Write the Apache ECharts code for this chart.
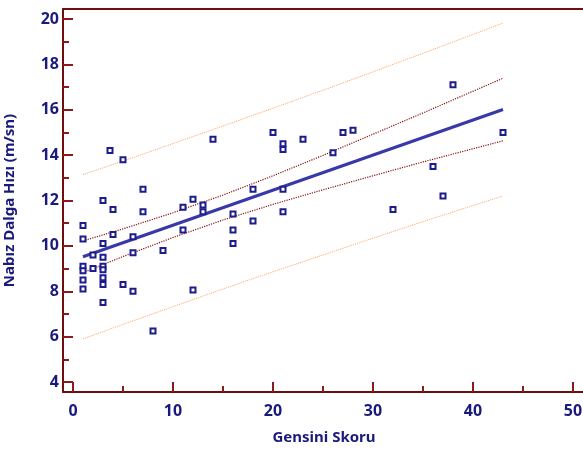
<!DOCTYPE html>
<html>
<head>
<meta charset="utf-8">
<script src="https://cdn.jsdelivr.net/npm/echarts@6/dist/echarts.min.js"></script>
<style>html,body{margin:0;padding:0;background:#fff}#c{width:583px;height:449px}</style>
</head>
<body>
<div id="c"></div>
<script>
// Data
const gensini = [1,1,1,1,1,1,2,2,3,3,3,3,3,3,3,3,3.7,4,4,5,5,6,6,6,7,7,8,9,11,11,12,12,13,13,14,16,16,16,18,18,20,21,21,21,21,23,26,27,28,32,36,37,38,43];
const nabiz   = [10.9,10.3,9.1,8.9,8.5,8.1,9.6,9.0,12.0,10.1,9.5,9.1,8.95,8.6,8.3,7.5,14.2,11.6,10.5,13.8,8.3,10.4,9.7,8.0,12.5,11.5,6.25,9.8,11.7,10.7,12.05,8.05,11.8,11.5,14.7,11.4,10.7,10.1,12.5,11.1,15.0,14.5,14.25,12.5,11.5,14.7,14.1,15.0,15.1,11.6,13.5,12.2,17.1,15.0];
const fitX = [1, 43];
const fitY = [9.52, 16.01];
const bandX     = [1, 5, 10, 15, 20, 25, 30, 35, 43];
const confUpper = [10.22, 10.75, 11.46, 12.24, 13.09, 13.99, 14.92, 15.86, 17.39];
const confLower = [8.82, 9.53, 10.37, 11.14, 11.83, 12.47, 13.09, 13.70, 14.63];
const predUpper = [13.14, 13.74, 14.51, 15.28, 16.07, 16.86, 17.67, 18.49, 19.82];
const predLower = [5.90, 6.54, 7.32, 8.10, 8.86, 9.60, 10.34, 11.07, 12.20];
const xMajorTicks = [0, 10, 20, 30, 40, 50];
const xMinorTicks = [5, 15, 25, 35, 45];
const yMajorTicks = [4, 6, 8, 10, 12, 14, 16, 18, 20];
const yMinorTicks = [5, 7, 9, 11, 13, 15, 17, 19];
const xTitle = 'Gensini Skoru';
const yTitle = 'Nabız Dalga Hızı (m/sn)';

const navy = '#1a1a7c';
const axisCol = '#6e0f0f';
const tickCol = '#8b1a1a';
const font = 'Noto Sans';
const zip = (a, b) => a.map((v, i) => [v, b[i]]);

const xRange = {min: -1, max: 52};
const yRange = {min: 3.56, max: 20.44};

const chart = echarts.init(document.getElementById('c'), null, {renderer: 'canvas'});
chart.setOption({
  animation: false,
  grid: {left: 63, top: 9, width: 530, height: 383, outerBoundsMode: 'none'},
  xAxis: [
    {type: 'value', position: 'bottom', ...xRange,
     name: xTitle, nameLocation: 'middle', nameGap: 38,
     nameTextStyle: {color: navy, fontFamily: font, fontWeight: 'bold', fontSize: 15, padding: [0, 8, 0, 0]},
     axisLine: {show: true, onZero: false, lineStyle: {color: axisCol, width: 2}},
     axisTick: {show: true, inside: true, length: 10, customValues: xMajorTicks, lineStyle: {color: tickCol, width: 2}},
     axisLabel: {customValues: xMajorTicks, color: navy, fontFamily: font, fontWeight: 'bold', fontSize: 16, margin: 11},
     splitLine: {show: false}},
    {type: 'value', position: 'bottom', ...xRange,
     axisLine: {show: false, onZero: false},
     axisTick: {show: true, inside: true, length: 6, customValues: xMinorTicks, lineStyle: {color: tickCol, width: 2}},
     axisLabel: {show: false}, splitLine: {show: false}},
    {type: 'value', position: 'top', ...xRange,
     axisLine: {show: true, onZero: false, lineStyle: {color: axisCol, width: 2}},
     axisTick: {show: false}, axisLabel: {show: false}, splitLine: {show: false}}
  ],
  yAxis: [
    {type: 'value', position: 'left', ...yRange,
     name: yTitle, nameLocation: 'middle', nameGap: 46,
     nameTextStyle: {color: navy, fontFamily: font, fontWeight: 'bold', fontSize: 15},
     axisLine: {show: true, onZero: false, lineStyle: {color: axisCol, width: 2}},
     axisTick: {show: true, inside: true, length: 10, customValues: yMajorTicks, lineStyle: {color: tickCol, width: 2}},
     axisLabel: {customValues: yMajorTicks, color: navy, fontFamily: font, fontWeight: 'bold', fontSize: 16, margin: 4},
     splitLine: {show: false}},
    {type: 'value', position: 'left', ...yRange,
     axisLine: {show: false, onZero: false},
     axisTick: {show: true, inside: true, length: 6, customValues: yMinorTicks, lineStyle: {color: tickCol, width: 2}},
     axisLabel: {show: false}, splitLine: {show: false}}
  ],
  series: [
    {type: 'line', data: zip(bandX, predUpper), showSymbol: false, lineStyle: {color: '#ffa060', width: 1, type: 'dotted'}, z: 2},
    {type: 'line', data: zip(bandX, predLower), showSymbol: false, lineStyle: {color: '#ffa060', width: 1, type: 'dotted'}, z: 2},
    {type: 'line', data: zip(bandX, confUpper), showSymbol: false, lineStyle: {color: '#8b1010', width: 1.2, type: 'dotted'}, z: 2},
    {type: 'line', data: zip(bandX, confLower), showSymbol: false, lineStyle: {color: '#8b1010', width: 1.2, type: 'dotted'}, z: 2},
    {type: 'line', data: zip(fitX, fitY), showSymbol: false, lineStyle: {color: '#3838a8', width: 3}, z: 3},
    {type: 'scatter', data: zip(gensini, nabiz), symbol: 'rect', symbolSize: 5,
     itemStyle: {color: '#ffffff', borderColor: '#1c1c8c', borderWidth: 2, opacity: 1}, z: 4}
  ]
});
</script>
</body>
</html>
